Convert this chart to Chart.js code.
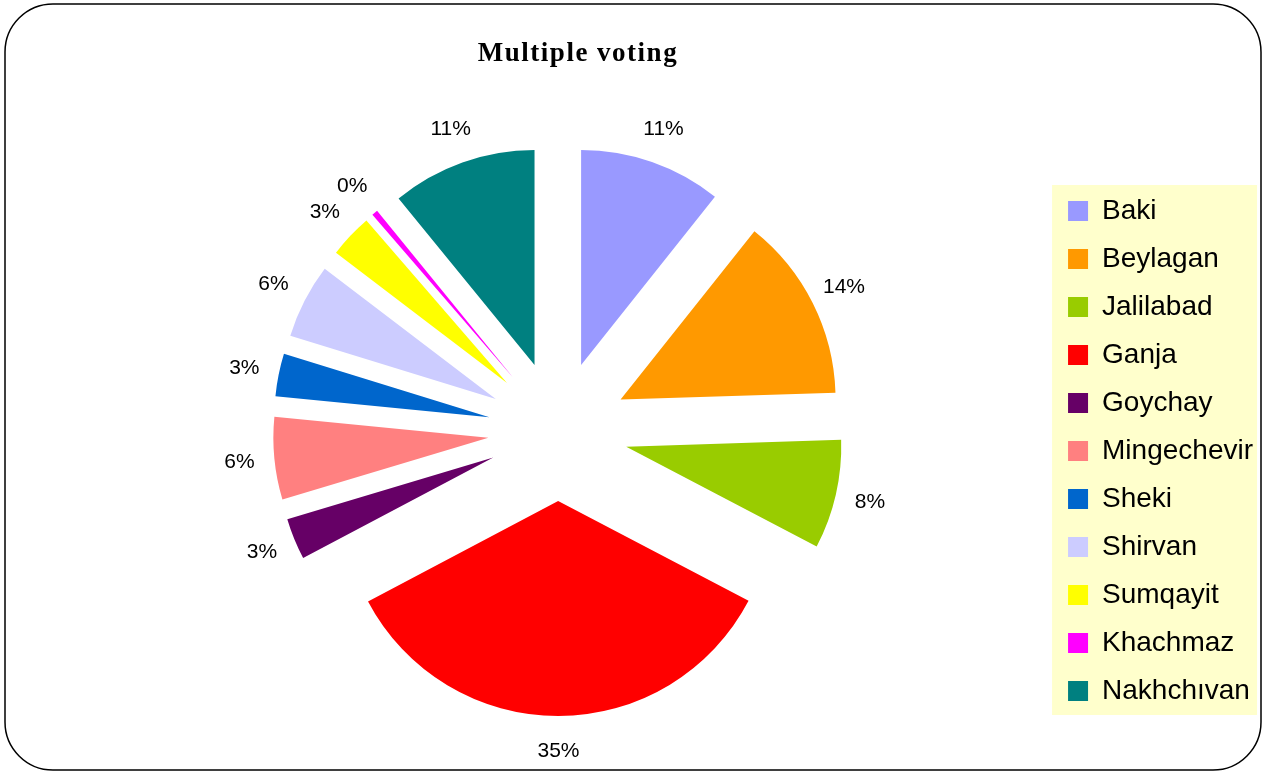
<!DOCTYPE html>
<html>
<head>
<meta charset="utf-8">
<title>Multiple voting</title>
<script src="https://cdn.jsdelivr.net/npm/chart.js@4.4.0/dist/chart.umd.min.js"></script>
<style>
  body { margin: 0; background: #fff; }
  #chart-container { position: relative; width: 1265px; height: 772px; }
</style>
</head>
<body>
<div id="chart-container"><canvas id="voting-chart"></canvas></div>
<script>
let cities = ['Baki', 'Beylagan', 'Jalilabad', 'Ganja', 'Goychay', 'Mingechevir', 'Sheki', 'Shirvan', 'Sumqayit', 'Khachmaz', 'Nakhchıvan'];
let shares = [10.7, 13.8, 8.2, 34.6, 3.1, 6.2, 3.2, 5.6, 3.3, 0.45, 10.9];
let colors = ['#9999FF', '#FF9900', '#99CC00', '#FF0000', '#660066', '#FF8080', '#0066CC', '#CCCCFF', '#FFFF00', '#FF00FF', '#008080'];
let chartTitle = 'Multiple voting';

let explode = 70;      // how far each slice is pulled away from the centre
let labelGap = 35;     // distance of the % labels beyond the exploded slice

// frame, legend background and title
const decorations = {
    id: 'decorations',
    beforeDraw(chart) {
        const ctx = chart.ctx;
        ctx.save();
        ctx.strokeStyle = '#000';
        ctx.lineWidth = 1.5;
        ctx.beginPath();
        ctx.roundRect(5, 4, 1256, 766, 48);
        ctx.stroke();

        const legend = chart.legend;
        const boxes = legend.legendHitBoxes;
        if (boxes && boxes.length) {
            const first = boxes[0];
            const last = boxes[boxes.length - 1];
            ctx.fillStyle = '#FFFFCC';
            ctx.fillRect(legend.left + 4, first.top - 12, 205, last.top + last.height - first.top + 22);
        }
        ctx.restore();
    },
    afterDraw(chart) {
        const ctx = chart.ctx;
        ctx.save();
        ctx.font = 'bold 27px "Liberation Serif"';
        ctx.letterSpacing = '1.5px';
        ctx.fillStyle = '#000';
        ctx.textAlign = 'center';
        ctx.textBaseline = 'middle';
        ctx.fillText(chartTitle, 578, 54);
        ctx.restore();
    }
};

// draws the slices pulled out along their bisectors, then the percentages
const explodedSlices = {
    id: 'explodedSlices',
    beforeDatasetDraw(chart, args) {
        const ctx = chart.ctx;
        args.meta.data.forEach(arc => {
            const mid = (arc.startAngle + arc.endAngle) / 2;
            ctx.save();
            ctx.translate(Math.cos(mid) * explode, Math.sin(mid) * explode);
            arc.draw(ctx, chart.chartArea);
            ctx.restore();
        });
        return false;
    },
    afterDatasetsDraw(chart) {
        const ctx = chart.ctx;
        const meta = chart.getDatasetMeta(0);
        const data = chart.data.datasets[0].data;
        const total = data.reduce((a, b) => a + b, 0);
        ctx.save();
        ctx.font = '21px "Liberation Sans"';
        ctx.fillStyle = '#000';
        ctx.textAlign = 'center';
        ctx.textBaseline = 'middle';
        meta.data.forEach((arc, i) => {
            const mid = (arc.startAngle + arc.endAngle) / 2;
            const r = arc.outerRadius + explode + labelGap;
            const pct = Math.round(data[i] / total * 100) + '%';
            ctx.fillText(pct, arc.x + Math.cos(mid) * r, arc.y + Math.sin(mid) * r);
        });
        ctx.restore();
    }
};

const ctx = document.getElementById('voting-chart').getContext('2d');
const chart = new Chart(ctx, {
    type: 'pie',
    data: {
        labels: cities,
        datasets: [{
            data: shares,
            backgroundColor: colors,
            borderWidth: 0
        }]
    },
    options: {
        responsive: true,
        maintainAspectRatio: false,
        animation: false,
        radius: 215,
        layout: {
            padding: { left: 68, right: 2, top: 100, bottom: 10 }
        },
        plugins: {
            tooltip: { enabled: false },
            legend: {
                position: 'right',
                title: {
                    display: true,
                    text: '',
                    font: { size: 12, lineHeight: 1 },
                    padding: { top: 14, bottom: 14 }
                },
                labels: {
                    boxWidth: 20,
                    boxHeight: 20,
                    padding: 20,
                    color: '#000',
                    font: { family: '"Liberation Sans", Arial, sans-serif', size: 28 }
                }
            }
        }
    },
    plugins: [decorations, explodedSlices]
});
</script>
</body>
</html>
